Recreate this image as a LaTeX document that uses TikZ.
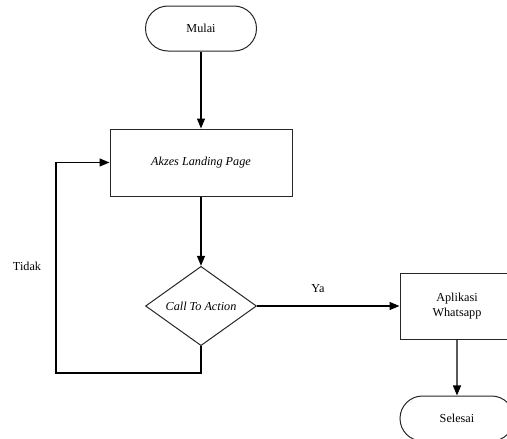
\documentclass[tikz,border=0pt]{standalone}
\usepackage{fontspec}
\setmainfont{Liberation Serif}
\newfontfamily\diagfont{Liberation Serif}
\usetikzlibrary{arrows.meta,shapes.geometric,shapes.misc}
\begin{document}
\begin{tikzpicture}[x=1pt,y=-1pt,
  every node/.style={font=\diagfont\fontsize{12.2}{15}\selectfont, text=black},
  term/.style={draw=black!85, rounded rectangle, minimum width=111pt, minimum height=45pt, inner sep=0pt, line width=1pt},
  proc/.style={draw=black!85, rectangle, inner sep=0pt, line width=1pt, align=center},
  dec/.style={draw=black!85, diamond, minimum width=111pt, minimum height=66pt, inner sep=0pt, line width=1pt},
  arr/.style={-{Triangle[length=10pt,width=8pt]}, line width=1.3pt},
  lbl/.style={inner sep=0pt}]
\useasboundingbox (0,0) rectangle (507,439);
\clip (0,0) rectangle (507,439);
\node[term] (mulai) at (201,28.5) {Mulai};
\node[proc, minimum width=182pt, minimum height=67pt] (akses) at (201,162.5) {\itshape Akzes Landing Page};
\node[dec] (cta) at (201,306) {\itshape Call To Action};
\node[proc, minimum width=114pt, minimum height=66pt] (wa) at (457,306) {Aplikasi\\Whatsapp};
\node[term, minimum width=114pt] (selesai) at (457,418.5) {Selesai};
\coordinate (lp) at (56,373);
\draw[arr] (mulai) -- (akses);
\draw[arr] (akses) -- (cta);
\draw[arr] (cta.east) -- (wa.west);
\draw[arr] (wa) -- (selesai);
\draw[arr] (cta.south) |- (lp) |- (akses.west);
\node[lbl] (ya) at (318,289) {Ya};
\node[lbl] (tidak) at (27,266) {Tidak};
\end{tikzpicture}
\end{document}
